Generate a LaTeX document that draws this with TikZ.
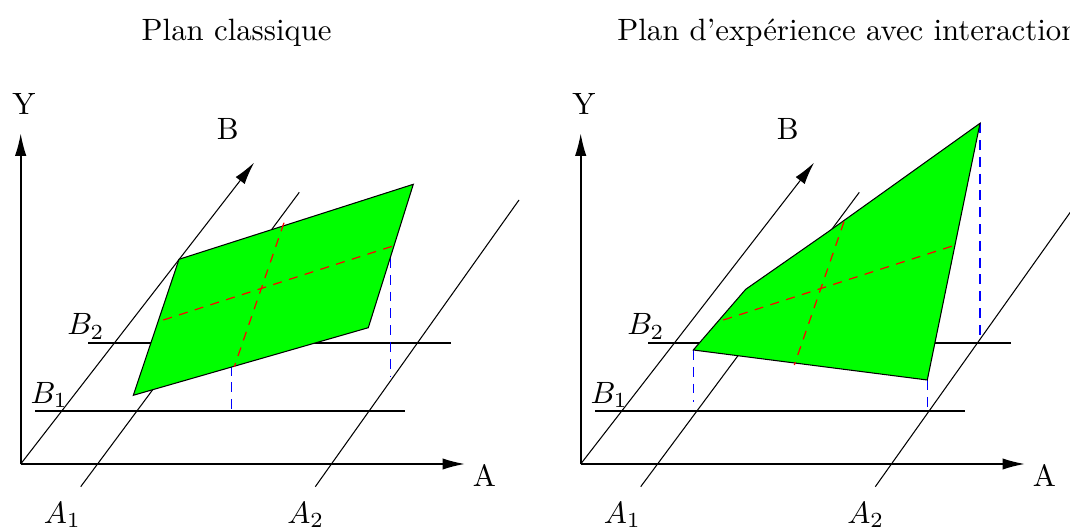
\documentclass[tikz,border=0pt]{standalone}
\usetikzlibrary{arrows.meta}
\tikzset{
  axis/.style={line width=0.55pt, -{Latex[length=7.5pt,width=3.8pt]}},
  baxis/.style={line width=0.35pt, -{Latex[length=7.5pt,width=3.8pt]}},
  gridline/.style={line width=0.35pt},
  surf/.style={fill=green, draw=black, line width=0.35pt},
  proj/.style={blue, line width=0.5pt, dash pattern=on 3.3pt off 2.3pt},
  midline/.style={red, line width=0.4pt, dash pattern=on 3pt off 2.5pt},
  lbl/.style={inner sep=0pt, anchor=base, scale=1.027},
  lblw/.style={inner sep=0pt, anchor=base west, scale=1.027},
}
\newcommand\axesframe{%
  \coordinate (O) at (20.7,464);
  \coordinate (Ytip) at (20.7,133.3);
  \coordinate (Atip) at (465,464);
  \coordinate (Btip) at (254,162.7);
  \coordinate (A1s) at (80.7,486.7);  \coordinate (A1e) at (299.3,192.3);
  \coordinate (A2s) at (315.3,486.7); \coordinate (A2e) at (519,200);
  \coordinate (B1s) at (35,411);      \coordinate (B1e) at (405.3,411);
  \coordinate (B2s) at (88.3,343);    \coordinate (B2e) at (450.7,343);
  \draw[axis] (O) -- (Ytip);
  \draw[axis] (O) -- (Atip);
  \draw[baxis] (O) -- (Btip);
  \draw[gridline] (A1s) -- (A1e);
  \draw[gridline] (A2s) -- (A2e);
  \draw[gridline] (B1s) -- (B1e);
  \draw[gridline] (B2s) -- (B2e);
  \node[lbl] (Ylab) at (24,115) {Y};
  \node[lbl] (Blab) at (227.7,139.3) {B};
  \node[lbl] (Alab) at (484.3,486.7) {A};
  \node[lblw] (A1lab) at (43.3,523.3) {$A_1$};
  \node[lblw] (A2lab) at (286.7,523.3) {$A_2$};
  \node[lblw] (B1lab) at (30,403.3) {$B_1$};
  \node[lblw] (B2lab) at (66.7,335) {$B_2$};
}
\begin{document}
\begin{tikzpicture}[x=0.33333pt, y=-0.33333pt]
  \useasboundingbox (0,0) rectangle (1070,529);
  \node[lbl] (t1) at (236.7,41) {Plan classique};
  \node[lblw] (t2) at (616.7,41) {Plan d’expérience avec interaction};
  % left diagram
  \begin{scope}[name prefix=L-]
    \axesframe
    \draw[proj] (231.7,365.7) -- (231.7,411);
    \draw[proj] (390.7,258) -- (390.7,376.7);
    \coordinate (P1) at (133.3,395.3);
    \coordinate (P2) at (179,259.3);
    \coordinate (P3) at (413.3,184.3);
    \coordinate (P4) at (368.3,327.7);
    \filldraw[surf] (P1) -- (P2) -- (P3) -- (P4) -- cycle;
    \draw[midline] (163.3,320) -- (398.3,244.3);
    \draw[midline] (284,222.7) -- (234.3,366.7);
  \end{scope}
  % right diagram
  \begin{scope}[shift={(560,0)}, name prefix=R-]
    \axesframe
    \draw[proj] (133.3,350) -- (133.3,401.7);
    \draw[proj] (420,123.3) -- (420,336.7);
    \draw[proj] (367.3,380) -- (367.3,411);
    \coordinate (P1) at (133.3,350);
    \coordinate (P2) at (185.7,289.3);
    \coordinate (P3) at (268.3,231.7);
    \coordinate (P4) at (420,123.3);
    \coordinate (P5) at (367.3,380);
    \filldraw[surf] (P1) -- (P2) -- (P3) -- (P4) -- (P5) -- cycle;
    \draw[midline] (163.3,320) -- (397.7,244.3);
    \draw[midline] (284,221.7) -- (234.3,365);
  \end{scope}
\end{tikzpicture}
\end{document}
